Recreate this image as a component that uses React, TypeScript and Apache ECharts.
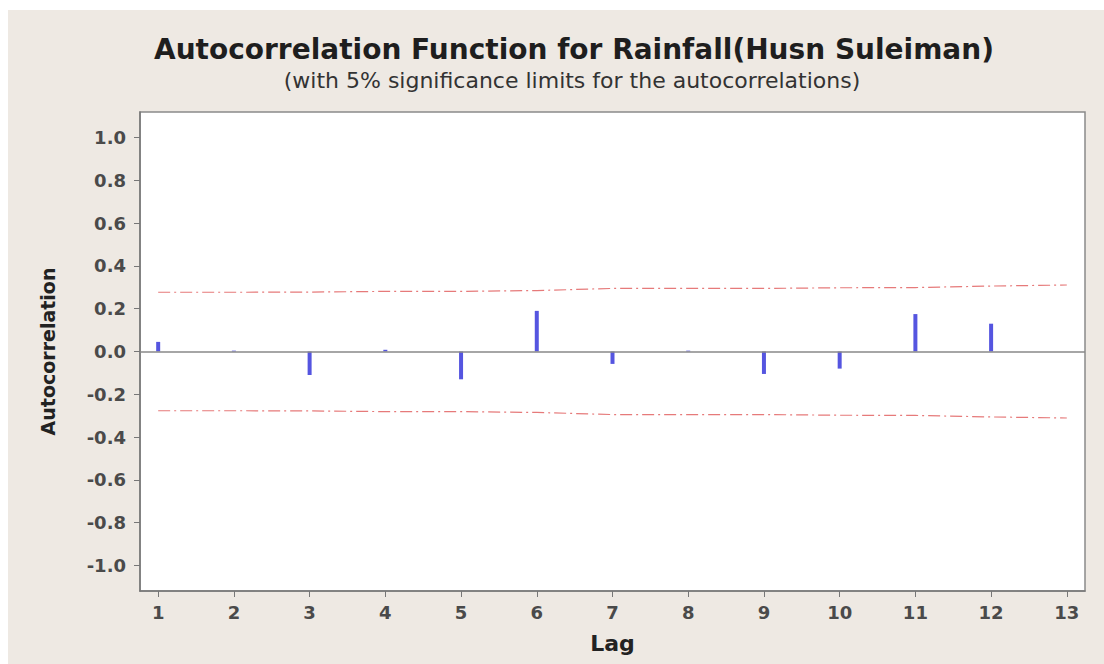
import React, { useEffect, useRef } from "react";
import * as echarts from "echarts";

const lags = [1, 2, 3, 4, 5, 6, 7, 8, 9, 10, 11, 12];
const acf = [0.045, 0.004, -0.11, 0.008, -0.13, 0.19, -0.058, 0.004, -0.105, -0.08, 0.175, 0.13];
const limitLags = [1, 2, 3, 4, 5, 6, 7, 8, 9, 10, 11, 12, 13];
const upperLimit = [0.277, 0.277, 0.278, 0.281, 0.281, 0.285, 0.295, 0.295, 0.295, 0.298, 0.299, 0.306, 0.311];
const lowerLimit = [-0.277, -0.277, -0.278, -0.281, -0.281, -0.285, -0.295, -0.295, -0.295, -0.298, -0.299, -0.306, -0.311];
const xTicks = [1, 2, 3, 4, 5, 6, 7, 8, 9, 10, 11, 12, 13];
const yTicks = [-1.0, -0.8, -0.6, -0.4, -0.2, 0.0, 0.2, 0.4, 0.6, 0.8, 1.0];

const TITLE = "Autocorrelation Function for Rainfall(Husn Suleiman)";
const SUBTITLE = "(with 5% significance limits for the autocorrelations)";

export default function App() {
  const ref = useRef<HTMLDivElement>(null);
  useEffect(() => {
    document.body.style.margin = "0";
    document.body.style.overflow = "hidden";
    const chart = echarts.init(ref.current!, null, { renderer: "svg" });
    const font = "DejaVu Sans";
    chart.setOption({
      animation: false,
      backgroundColor: "#eee9e3",
      textStyle: { fontFamily: font },
      title: [
        {
          text: TITLE,
          left: 561,
          top: 20,
          textAlign: "center",
          textStyle: { fontFamily: font, fontSize: 28, fontWeight: "bold", color: "#1e1e1e" },
        },
        {
          text: SUBTITLE,
          left: 559,
          top: 54,
          textAlign: "center",
          textStyle: { fontFamily: font, fontSize: 22, fontWeight: "normal", color: "#333" },
        },
      ],
      grid: {
        left: 132,
        top: 102,
        right: 19,
        bottom: 73,
        show: true,
        backgroundColor: "#ffffff",
        borderColor: "#8a8a8a",
        borderWidth: 1.5,
      },
      xAxis: {
        type: "value",
        min: 0.76,
        max: 13.24,
        name: "Lag",
        nameLocation: "middle",
        nameGap: 41,
        nameTextStyle: { fontFamily: font, fontSize: 22, fontWeight: "bold", color: "#222" },
        axisLine: { show: true, onZero: false, lineStyle: { color: "#777", width: 1.5 } },
        axisTick: { show: true, length: 6, customValues: xTicks, lineStyle: { color: "#777" } },
        axisLabel: {
          customValues: xTicks,
          fontSize: 18,
          fontWeight: "bold",
          color: "#4a4a4a",
          margin: 12,
          formatter: (v: number) => String(Math.round(v)),
        },
        splitLine: { show: false },
      },
      yAxis: {
        type: "value",
        min: -1.12,
        max: 1.12,
        name: "Autocorrelation",
        nameLocation: "middle",
        nameGap: 83,
        nameTextStyle: { fontFamily: font, fontSize: 19, fontWeight: "bold", color: "#222" },
        axisLine: { show: true, onZero: false, lineStyle: { color: "#777", width: 1.5 } },
        axisTick: { show: true, length: 6, customValues: yTicks, lineStyle: { color: "#777" } },
        axisLabel: {
          customValues: yTicks,
          fontSize: 18,
          fontWeight: "bold",
          color: "#4a4a4a",
          margin: 14,
          formatter: (v: number) => (Math.abs(v) < 1e-9 ? "0.0" : v.toFixed(1)),
        },
        splitLine: { show: false },
      },
      series: [
        {
          type: "line",
          data: limitLags.map((x, i) => [x, upperLimit[i]]),
          symbol: "none",
          lineStyle: { color: "#e67a7a", width: 1.2, type: [12, 4, 2, 4] },
          z: 3,
        },
        {
          type: "line",
          data: limitLags.map((x, i) => [x, lowerLimit[i]]),
          symbol: "none",
          lineStyle: { color: "#e67a7a", width: 1.2, type: [12, 4, 2, 4] },
          z: 3,
        },
        {
          type: "bar",
          data: lags.map((x, i) => [x, acf[i]]),
          barWidth: 4,
          itemStyle: { color: "#5555e0" },
          z: 4,
          markLine: {
            symbol: "none",
            silent: true,
            label: { show: false },
            lineStyle: { color: "#888", width: 1.5, type: "solid" },
            data: [{ yAxis: 0 }],
          },
        },
      ],
    });
    return () => chart.dispose();
  }, []);
  return (
    <div style={{ width: 1104, height: 664, background: "#ffffff", position: "relative", overflow: "hidden" }}>
      <div ref={ref} style={{ position: "absolute", left: 8, top: 10, width: 1096, height: 654 }} />
    </div>
  );
}
